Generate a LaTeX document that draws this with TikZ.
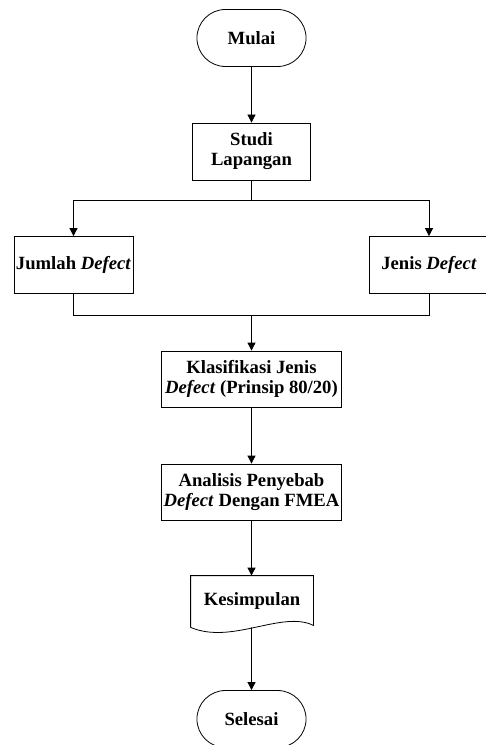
\documentclass[tikz,border=0pt]{standalone}
\usepackage{fontspec}
\setmainfont{Liberation Serif}
\usepackage{tikz}
\usetikzlibrary{arrows.meta,shapes.misc}
\usetikzlibrary{positioning}

\begin{document}
\begin{tikzpicture}[x=0.75pt,y=-0.75pt,line width=0.6pt,
  every node/.style={font=\fontsize{14}{15}\selectfont\bfseries},
  term/.style={rounded rectangle,draw=black,minimum width=88.5pt,minimum height=42.75pt},
  proc/.style={rectangle,draw=black,minimum width=88.5pt,minimum height=42.75pt,align=center,inner sep=1pt},
  wide/.style={proc,minimum width=135pt,minimum height=42pt},
  arr/.style={-{Triangle[length=6pt,width=6pt]}}]
\useasboundingbox (0,0) rectangle (485,745);
\node[term](mulai) at (251.5,38){Mulai};
\node[proc](studi) at (251.5,151.5){Studi\\Lapangan};
\node[proc,minimum width=89.25pt](jumlah) at (73.5,265){Jumlah \textit{Defect}};
\node[proc,minimum width=89.25pt](jenis) at (429,265){Jenis \textit{Defect}};
\node[wide](klas) at (251.5,379){Klasifikasi Jenis\\\textit{Defect} (Prinsip 80/20)};
\node[wide](anal) at (251.5,492){Analisis Penyebab\\\textit{Defect} Dengan FMEA};
\node[rectangle,minimum width=91.5pt,minimum height=38.25pt](kes) at (252,601.5){Kesimpulan};
\node[term](selesai) at (251.5,719){Selesai};
\coordinate (split) at (251.5,200);
\coordinate (merge) at (251.5,315);
% dokumen
\draw (kes.south west) -- (kes.north west) -- (kes.north east) -- ([yshift=1.5pt]kes.south east)
  .. controls (282,610) and (232,645) .. (kes.south west);
% panah
\draw[arr] (mulai) -- (studi);
\draw (studi) -- (split);
\draw[arr] (split) -| (jumlah);
\draw[arr] (split) -| (jenis);
\draw (jumlah) |- (merge);
\draw (jenis) |- (merge);
\draw[arr] (merge) -- (klas);
\draw[arr] (klas) -- (anal);
\draw[arr] (anal) -- (anal |- kes.north);
\draw[arr] (anal |- kes.south) -- (selesai);
\end{tikzpicture}
\end{document}
